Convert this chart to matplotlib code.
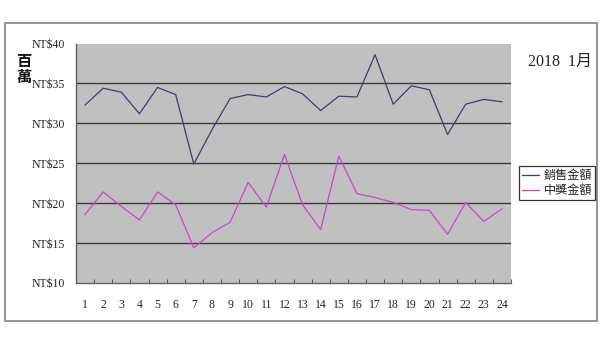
import matplotlib
matplotlib.use("Agg")
import matplotlib.pyplot as plt
from matplotlib.patches import Rectangle
from matplotlib.ticker import FixedLocator

days = list(range(1, 25))
sales = [32.3, 34.4, 33.9, 31.2, 34.5, 33.6, 24.9, 29.2, 33.1, 33.6, 33.3, 34.6,
         33.7, 31.6, 33.4, 33.3, 38.6, 32.4, 34.7, 34.2, 28.6, 32.4, 33.0, 32.7]
prize = [18.6, 21.4, 19.6, 17.9, 21.4, 19.8, 14.4, 16.3, 17.6, 22.6, 19.5, 26.1,
         19.8, 16.7, 25.9, 21.2, 20.7, 20.1, 19.2, 19.1, 16.1, 20.1, 17.7, 19.3]
yticks = [10, 15, 20, 25, 30, 35, 40]
ytick_labels = ["NT$10", "NT$15", "NT$20", "NT$25", "NT$30", "NT$35", "NT$40"]
series_names = ["銷售金額", "中獎金額"]
title = "2018  1月"
unit = "百\n萬"

serif = ["Liberation Serif", "Noto Sans CJK TC", "DejaVu Sans"]
cjk = ["Noto Sans CJK TC", "DejaVu Sans"]

fig = plt.figure(figsize=(6, 3.64), dpi=100)
fig.patch.set_facecolor("white")
fig.add_artist(Rectangle((5 / 600, 1 - 321 / 364), 592 / 600, 298 / 364,
                         transform=fig.transFigure, fill=False,
                         edgecolor="#808080", linewidth=1.2))

ax = fig.add_axes([76 / 600, 1 - 283 / 364, 435 / 600, 239.5 / 364])
ax.set_facecolor("#c0c0c0")
ax.set_xlim(0.5, 24.5)
ax.set_ylim(10, 40)
for y in yticks[1:-1]:
    ax.axhline(y, color="#3a3a3a", linewidth=1.0, zorder=1)

l1, = ax.plot(days, sales, color="#3c3c78", linewidth=0.9, zorder=3)
l2, = ax.plot(days, prize, color="#cc44cc", linewidth=0.9, zorder=3)

for s in ["top", "right"]:
    ax.spines[s].set_visible(False)
for s in ["left", "bottom"]:
    ax.spines[s].set_color("#606060")
    ax.spines[s].set_linewidth(1.0)

ax.set_xticks(days)
ax.set_xticklabels([str(d) for d in days], fontfamily=serif, fontsize=8.5,
                   color="#222222")
ax.xaxis.set_minor_locator(FixedLocator([d + 0.5 for d in days]))
ax.tick_params(axis="x", which="major", length=0, pad=11.5)
ax.tick_params(axis="x", which="minor", length=3, direction="in", color="#404040")
ax.set_yticks(yticks)
ax.set_yticklabels(ytick_labels, fontfamily=serif, fontsize=8.5, color="#222222")
ax.tick_params(axis="y", length=0, pad=8)

fig.text(24 / 600, 1 - 69 / 364, unit, fontfamily=cjk, fontsize=11, fontweight="bold",
         ha="center", va="center", linespacing=1.05, color="#111111")
fig.text(560 / 600, 1 - 62 / 364, title, fontfamily=serif, fontsize=11.5,
         ha="center", va="center", color="#222222")

leg = fig.legend([l1, l2], series_names, loc="upper left",
                 bbox_to_anchor=(519 / 600, 1 - 166 / 364),
                 prop={"family": cjk, "size": 8.7}, frameon=True, fancybox=False,
                 handlelength=1.4, handletextpad=0.4, borderpad=0.25,
                 labelspacing=0.15, borderaxespad=0)
leg.get_frame().set_edgecolor("black")
leg.get_frame().set_linewidth(0.9)
for t in leg.get_texts():
    t.set_color("#222222")

fig.savefig("out.png", dpi=100)
